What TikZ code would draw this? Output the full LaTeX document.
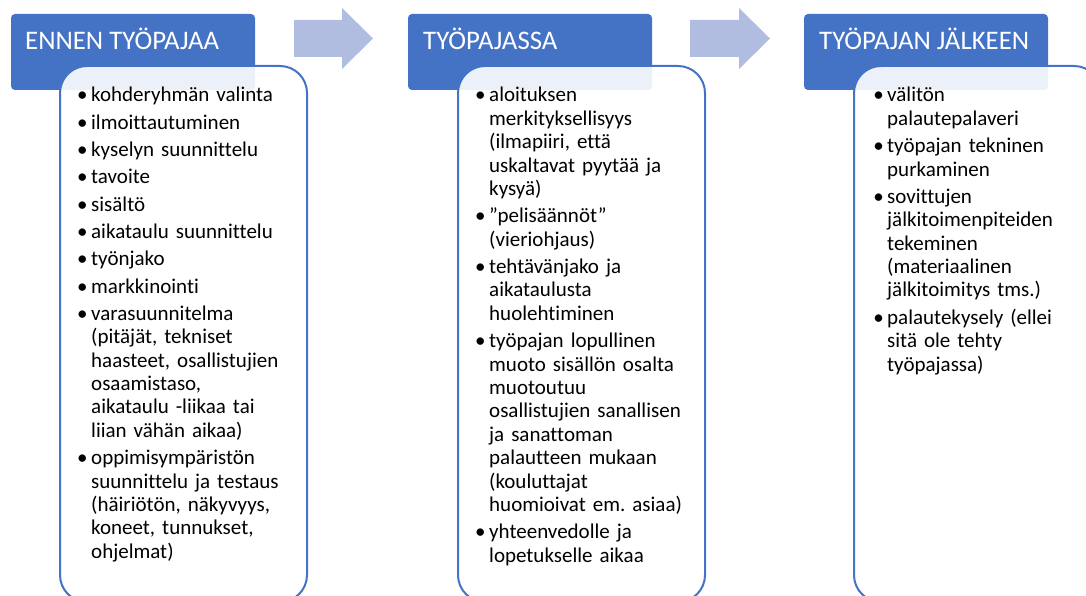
\documentclass[tikz,border=0pt]{standalone}
\usepackage{fontspec}
\setmainfont{Carlito}[Ligatures=NoCommon]
\definecolor{hdr}{RGB}{68,114,196}
\definecolor{arr}{RGB}{176,189,224}
\newcommand\itmf{\noindent\llap{\textbullet\hspace{3.5pt}}}
\newcommand\itm{\par\itmf}
\newcommand\listsetup{\raggedright\frenchspacing\setlength\parskip{3.9pt}\setlength\parindent{0pt}}
\begin{document}
\begin{tikzpicture}[x=1pt,y=-1pt,
  header/.style={fill=hdr, rounded corners=4pt, minimum width=244pt, minimum height=76pt, anchor=north west, inner sep=0, outer sep=0},
  card/.style={draw=hdr, line width=2pt, fill=white, fill opacity=0.9, rounded corners=27pt, minimum width=247pt, minimum height=536pt, anchor=north west, inner sep=0, outer sep=0},
  htext/.style={anchor=base west, inner sep=0, text=white, font=\fontsize{26.8}{30}\selectfont},
  list/.style={anchor=base west, inner sep=0, text width=240pt, font=\fontsize{21}{23.4}\selectfont},
  flow/.style={fill=arr}]
\clip (0,0) rectangle (1086,596);
% arrows
\fill[flow] (294,20) -- (342,20) -- (342,8) -- (373,38.5) -- (342,69) -- (342,57) -- (294,57) -- cycle;
\fill[flow] (690,20) -- (739,20) -- (739,8) -- (770,38.5) -- (739,69) -- (739,57) -- (690,57) -- cycle;
% headers
\node[header] (h1) at (11,14) {};
\node[header] (h2) at (408,14) {};
\node[header] (h3) at (804,14) {};
\node[htext] (t1) at (25,50) {ENNEN TYÖPAJAA};
\node[htext] (t2) at (423,50) {TYÖPAJASSA};
\node[htext] (t3) at (819,50) {TYÖPAJAN JÄLKEEN};
% cards
\node[card] (c1) at (60,66) {};
\node[card] (c2) at (458,66) {};
\node[card] (c3) at (854,66) {};
% lists
\node[list] (l1) at (91,102) {\listsetup
\itmf kohderyhmän valinta
\itm ilmoittautuminen
\itm kyselyn suunnittelu
\itm tavoite
\itm sisältö
\itm aikataulu suunnittelu
\itm työnjako
\itm markkinointi
\itm varasuunnitelma\\ (pitäjät, tekniset\\ haasteet, osallistujien\\ osaamistaso,\\ aikataulu -liikaa tai\\ liian vähän aikaa)
\itm oppimisympäristön\\ suunnittelu ja testaus\\ (häiriötön, näkyvyys,\\ koneet, tunnukset,\\ ohjelmat)\par};
\node[list] (l2) at (489,102) {\listsetup
\itmf aloituksen\\ merkityksellisyys\\ (ilmapiiri, että\\ uskaltavat pyytää ja\\ kysyä)
\itm ”pelisäännöt”\\ (vieriohjaus)
\itm tehtävänjako ja\\ aikataulusta\\ huolehtiminen
\itm työpajan lopullinen\\ muoto sisällön osalta\\ muotoutuu\\ osallistujien sanallisen\\ ja sanattoman\\ palautteen mukaan\\ (kouluttajat\\ huomioivat em. asiaa)
\itm yhteenvedolle ja\\ lopetukselle aikaa\par};
\node[list] (l3) at (887,102) {\listsetup
\itmf välitön\\ palautepalaveri
\itm työpajan tekninen\\ purkaminen
\itm sovittujen\\ jälkitoimenpiteiden\\ tekeminen\\ (materiaalinen\\ jälkitoimitys tms.)
\itm palautekysely (ellei\\ sitä ole tehty\\ työpajassa)\par};
\end{tikzpicture}
\end{document}
